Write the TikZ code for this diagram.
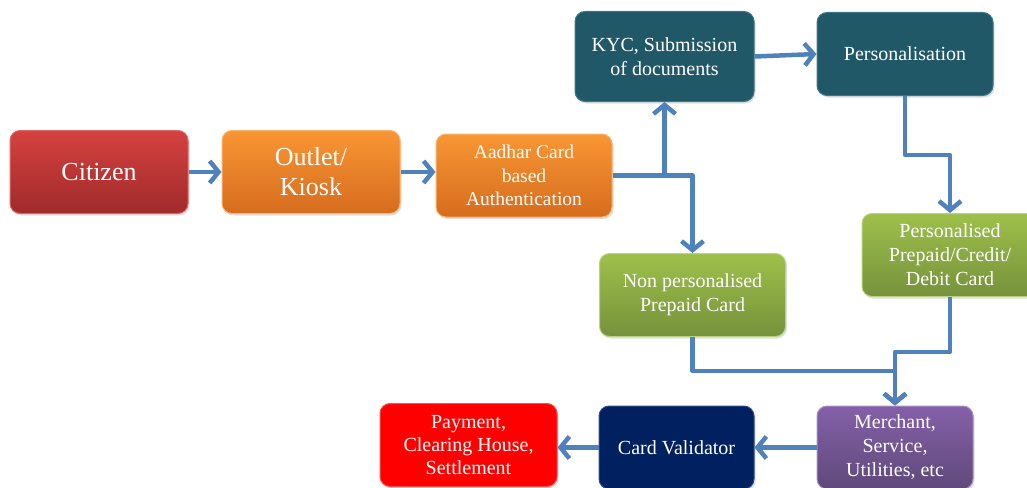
\documentclass[tikz,border=0pt]{standalone}
\usepackage{fontspec}
\setmainfont{Liberation Serif}
\usetikzlibrary{arrows.meta,shadows}

\definecolor{flowblue}{RGB}{79,129,189}
\definecolor{redtop}{RGB}{212,66,64}
\definecolor{redbot}{RGB}{160,42,42}
\definecolor{orangetop}{RGB}{249,150,52}
\definecolor{orangebot}{RGB}{214,108,30}
\definecolor{tealfill}{RGB}{33,88,104}
\definecolor{tealedge}{RGB}{60,120,140}
\definecolor{greentop}{RGB}{158,192,74}
\definecolor{greenbot}{RGB}{118,146,60}
\definecolor{purpletop}{RGB}{132,96,168}
\definecolor{purplebot}{RGB}{95,73,122}
\definecolor{navyfill}{RGB}{0,32,96}
\definecolor{navyedge}{RGB}{50,80,135}

\begin{document}
\begin{tikzpicture}[
    x=1pt,
    y=-1pt,
    line join=round,
    box/.style={
        rounded corners=10pt,
        align=center,
        text=white,
        inner sep=2pt,
        minimum height=83pt,
        line width=1pt,
        font=\fontsize{20}{24}\selectfont,
        drop shadow={opacity=0.25,shadow xshift=1.5pt,shadow yshift=-2pt}
    },
    redbox/.style={
        box, draw=redtop!80!white,
        top color=redtop, bottom color=redbot
    },
    orangebox/.style={
        box, draw=orangetop!70!white,
        top color=orangetop, bottom color=orangebot
    },
    tealbox/.style={
        box, draw=tealedge, fill=tealfill
    },
    greenbox/.style={
        box, draw=greentop!70!white,
        top color=greentop, bottom color=greenbot
    },
    purplebox/.style={
        box, draw=purpletop!70!white,
        top color=purpletop, bottom color=purplebot
    },
    navybox/.style={
        box, draw=navyedge, fill=navyfill
    },
    paybox/.style={
        box, draw=red!70!white, fill=red
    },
    flow/.style={
        draw=flowblue,
        line width=4.5pt,
        -{Straight Barb[length=9pt,width=22pt]}
    }
]

% =================================================
% Рамка рисунка
% =================================================

\useasboundingbox (0,0) rectangle (1027,487);

% =================================================
% Блоки
% =================================================

\node[redbox, minimum width=178pt, font=\fontsize{26}{30}\selectfont]
    (citizen) at (99,172) {Citizen};
\node[orangebox, minimum width=178pt, font=\fontsize{26}{30}\selectfont]
    (outlet) at (311,172) {Outlet/\\Kiosk};
\node[orangebox, minimum width=176pt, font=\fontsize{19.5}{23.5}\selectfont]
    (auth) at (524,175.5) {Aadhar Card\\based\\Authentication};

\node[tealbox, minimum width=179pt, minimum height=90pt]
    (kyc) at (664.5,56.5) {KYC, Submission\\of documents};
\node[tealbox, minimum width=176pt]
    (perso) at (905,54) {Personalisation};

\node[greenbox, minimum width=176pt]
    (perscard) at (950,255) {Personalised\\Prepaid/Credit/\\Debit Card};
\node[greenbox, minimum width=186pt]
    (nonpers) at (692.5,295) {Non personalised\\Prepaid Card};

\node[purplebox, minimum width=156pt]
    (merchant) at (895,447.5) {Merchant,\\Service,\\Utilities, etc};
\node[navybox, minimum width=155pt]
    (validator) at (676.5,447.5) {Card Validator};
\node[paybox, minimum width=177pt, font=\fontsize{20}{23}\selectfont]
    (payment) at (468.5,445) {Payment,\\Clearing House,\\Settlement};

% =================================================
% Точки изломов
% =================================================

\coordinate (joinA) at (895,371);
\coordinate (joinB) at (895,352);

% =================================================
% Стрелки
% =================================================

\draw[flow] (citizen.east) -- (outlet.west);
\draw[flow] (outlet.east) -- (auth.west |- outlet.east);
\draw[flow] (auth.east) -| (kyc.south);
\draw[flow] (auth.east) -| (nonpers.north);
\draw[flow] (kyc.east) -- (perso.west);
\draw[flow] (perso.south) -- ++(0,59) -| (perscard.north);
\draw[flow] (nonpers.south) |- (joinA) -- (merchant.north);
\draw[flow] (perscard.south) |- (joinB) -- (merchant.north);
\draw[flow] (merchant.west) -- (validator.east);
\draw[flow] (validator.west) -- (payment.east |- validator.west);

\end{tikzpicture}
\end{document}
